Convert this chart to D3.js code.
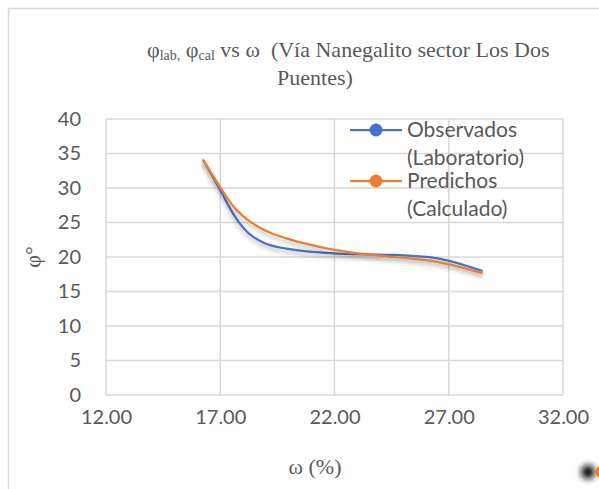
<!DOCTYPE html>
<html>
<head>
<meta charset="utf-8">
<script src="https://cdn.jsdelivr.net/npm/d3@7"></script>
<style>
  body { margin: 0; background: #fff; }
  svg { display: block; }
</style>
</head>
<body>
<svg width="599" height="489"></svg>
<script>
// Humedad (%)
let omega = [16.26, 17.0, 17.56, 18.16, 18.88, 19.9, 21.6, 23.1, 24.6, 26.5, 28.44];
// phi observado (laboratorio)
let phiLab = [34.0, 29.7, 26.3, 23.7, 22.1, 21.2, 20.6, 20.4, 20.3, 19.8, 18.0];
// phi predicho (calculado)
let phiCal = [34.0, 30.1, 27.4, 25.5, 24.0, 22.7, 21.3, 20.5, 20.0, 19.3, 17.7];

let xTicks = [12, 17, 22, 27, 32];
let yTicks = [0, 5, 10, 15, 20, 25, 30, 35, 40];
let seriesNames = [["Observados", "(Laboratorio)"], ["Predichos", "(Calculado)"]];
let seriesColors = ["#4472C4", "#ED7D31"];

var svg = d3.select("svg");
var grey = "#595959";
var gridColor = "#d9d9d9";
var sans = "Lato, 'Open Sans', sans-serif";
var serif = "'Liberation Serif', 'Times New Roman', serif";

// Chart frame
svg.append("rect")
    .attr("x", 8.5).attr("y", 8.5)
    .attr("width", 800).attr("height", 800)
    .attr("fill", "none")
    .attr("stroke", gridColor)
    .attr("stroke-width", 1.5)

var defs = svg.append("defs")
defs.append("filter")
    .attr("id", "shadow")
    .attr("x", "-10%").attr("y", "-10%")
    .attr("width", "130%").attr("height", "130%")
    .append("feDropShadow")
    .attr("dx", 0).attr("dy", 3)
    .attr("stdDeviation", 2)
    .attr("flood-color", "#000")
    .attr("flood-opacity", 0.3)
defs.append("filter")
    .attr("id", "blur")
    .attr("x", "-100%").attr("y", "-100%")
    .attr("width", "300%").attr("height", "300%")
    .append("feGaussianBlur")
    .attr("stdDeviation", 3)

var x = d3.scaleLinear().domain([12, 32]).range([106, 563]);
var y = d3.scaleLinear().domain([0, 40]).range([395, 119]);

// Gridlines
var grid = svg.append("g")
grid.selectAll(".hgrid")
    .data(yTicks)
    .join("line")
    .attr("x1", x(12)).attr("x2", x(32))
    .attr("y1", d => y(d)).attr("y2", d => y(d))
    .attr("stroke", gridColor)
    .attr("stroke-width", 1.5)
grid.selectAll(".vgrid")
    .data(xTicks)
    .join("line")
    .attr("x1", d => x(d)).attr("x2", d => x(d))
    .attr("y1", y(0)).attr("y2", y(40))
    .attr("stroke", gridColor)
    .attr("stroke-width", 1.5)

// Axes (labels only, lines drawn as grid)
var xAxis = svg.append("g")
    .attr("transform", "translate(0," + (y(0) + 12) + ")")
    .call(d3.axisBottom(x).tickValues(xTicks).tickSize(0).tickFormat(d3.format(".2f")))
xAxis.select(".domain").remove()
xAxis.selectAll("text")
    .attr("fill", grey)
    .attr("font-family", sans)
    .attr("font-size", 20)

var yAxis = svg.append("g")
    .attr("transform", "translate(" + (x(12) - 22) + ",0)")
    .call(d3.axisLeft(y).tickValues(yTicks).tickSize(0))
yAxis.select(".domain").remove()
yAxis.selectAll("text")
    .attr("fill", grey)
    .attr("font-family", sans)
    .attr("font-size", 20)

// Series
var line = d3.line()
    .x(d => x(d[0]))
    .y(d => y(d[1]))
    .curve(d3.curveMonotoneX)

var series = [phiLab, phiCal];
svg.append("g")
    .selectAll("path")
    .data(series)
    .join("path")
    .attr("d", s => line(omega.map((w, i) => [w, s[i]])))
    .attr("fill", "none")
    .attr("stroke", (d, i) => seriesColors[i])
    .attr("stroke-width", 2.25)
    .attr("stroke-linecap", "round")
    .attr("filter", "url(#shadow)")

// Title
var title = svg.append("text")
    .attr("x", 147).attr("y", 57)
    .attr("fill", grey)
    .attr("font-family", serif)
    .attr("font-size", 22)
    .attr("xml:space", "preserve")
    .style("white-space", "pre")
title.append("tspan").text("\u03c6")
title.append("tspan").attr("font-size", 14).attr("dy", 3).text("lab,")
title.append("tspan").attr("dy", -3).text(" \u03c6")
title.append("tspan").attr("font-size", 14).attr("dy", 3).text("cal")
title.append("tspan").attr("dy", -3).text(" vs \u03c9  (V\u00eda Nanegalito sector Los Dos")
svg.append("text")
    .attr("x", 315).attr("y", 85)
    .attr("text-anchor", "middle")
    .attr("fill", grey)
    .attr("font-family", serif)
    .attr("font-size", 22)
    .text("Puentes)")

// Axis titles
svg.append("text")
    .attr("transform", "translate(40,257) rotate(-90)")
    .attr("text-anchor", "middle")
    .attr("fill", grey)
    .attr("font-family", serif)
    .attr("font-size", 22)
    .text("\u03c6\u00b0")
svg.append("text")
    .attr("x", 315).attr("y", 474)
    .attr("text-anchor", "middle")
    .attr("fill", grey)
    .attr("font-family", serif)
    .attr("font-size", 22)
    .text("\u03c9 (%)")

// Legend
var legend = svg.append("g")
var item = legend.selectAll("g")
    .data(seriesNames)
    .join("g")
    .attr("transform", (d, i) => "translate(350," + (130 + i * 51) + ")")
item.append("line")
    .attr("x1", 0).attr("x2", 52)
    .attr("stroke", (d, i) => seriesColors[i])
    .attr("stroke-width", 2.25)
item.append("circle")
    .attr("cx", 26).attr("r", 6.5)
    .attr("fill", (d, i) => seriesColors[i])
item.selectAll("text")
    .data(d => d)
    .join("text")
    .attr("x", 57)
    .attr("y", (d, j) => 7 + j * 28)
    .attr("fill", grey)
    .attr("font-family", sans)
    .attr("font-size", 21)
    .text(d => d)

// Blurred marker remnant in the corner
svg.append("circle")
    .attr("cx", 588).attr("cy", 472).attr("r", 7)
    .attr("fill", "#111")
    .attr("filter", "url(#blur)")
svg.append("circle")
    .attr("cx", 602).attr("cy", 472).attr("r", 6.5)
    .attr("fill", "#ED7D31")
</script>
</body>
</html>
